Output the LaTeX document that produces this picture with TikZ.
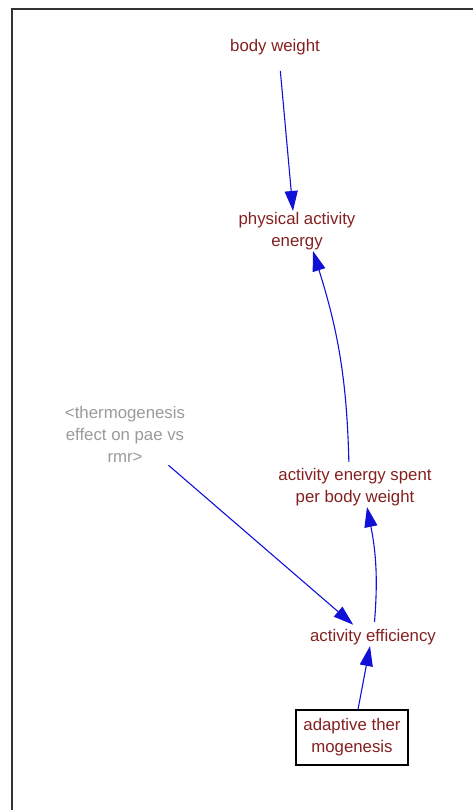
\documentclass[tikz,border=0pt]{standalone}
\usepackage{fontspec}
\setmainfont{Liberation Sans}
\usetikzlibrary{arrows.meta, positioning}
\definecolor{cred}{HTML}{842020}
\definecolor{cblue}{HTML}{1010D8}
\definecolor{cgrey}{HTML}{9A9A9A}
\definecolor{cframe}{HTML}{333333}
\tikzset{
  every picture/.style={x=1pt, y=1pt, font=\fontsize{16.8}{22}\selectfont},
  var/.style={text=cred, align=center, inner sep=1pt},
  shadow var/.style={text=cgrey, align=center, inner sep=1pt},
  level/.style={var, draw=black, line width=1.2pt, minimum width=112pt, minimum height=55pt},
  link/.style={-{Triangle[length=20pt, width=13pt]}, draw=cblue, line width=1.1pt},
}
\begin{document}
\begin{tikzpicture}
  \useasboundingbox (0,0) rectangle (473,-810);
  \draw[cframe, line width=2pt] (12,-810) -- (12,-9) -- (473,-9);
  % variables
  \node[var] (bw) at (275,-47) {body weight};
  \node[var] (pae) at (297,-231) {physical activity\\energy};
  \node[shadow var] (therm) at (125,-434) {<thermogenesis\\effect on pae vs\\rmr>};
  \node[var] (aes) at (355,-487) {activity energy spent\\per body weight};
  \node[var] (ae) at (373,-637) {activity efficiency};
  \node[level] (at) at (352,-737.5) {adaptive ther\\mogenesis};
  % links
  \draw[link, shorten <=15pt] ([xshift=4pt]bw.south) -- ([xshift=-4pt]pae.north);
  \draw[link, shorten <=5pt] ([xshift=-6pt]aes.north) to[bend right=8] ([xshift=16pt]pae.south);
  \draw[link, shorten <=6pt] ([xshift=1pt]ae.north) to[bend right=8] ([xshift=12pt]aes.south);
  \draw[link, shorten <=3pt, shorten >=5pt] ([xshift=-20pt]therm.south east) -- ([xshift=-16pt]ae.north);
  \draw[link] ([xshift=6pt]at.north) -- ([xshift=-3pt]ae.south);
\end{tikzpicture}
\end{document}
